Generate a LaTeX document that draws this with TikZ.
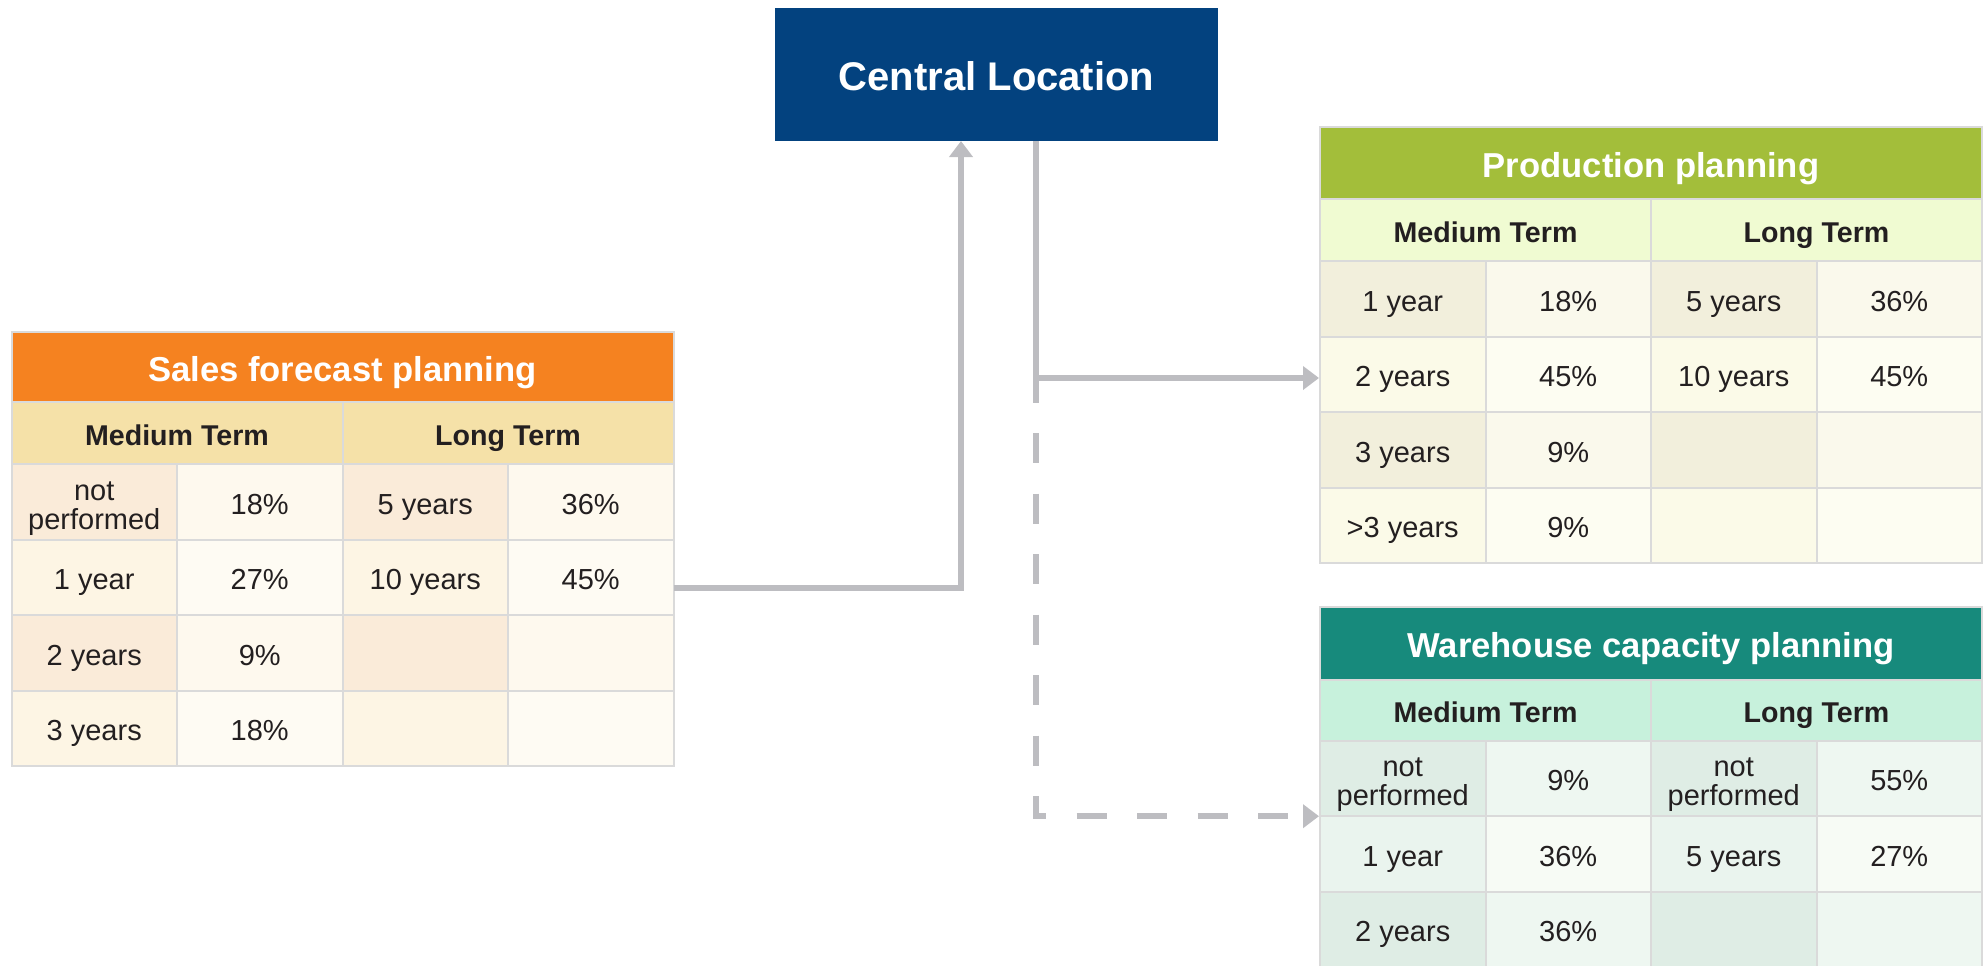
\documentclass[tikz,border=0pt]{standalone}
\usepackage{fontspec}
\setmainfont{Liberation Sans}
\usetikzlibrary{arrows.meta}

% palette
\definecolor{centralBlue}{HTML}{03427F}
\definecolor{gridgray}{HTML}{DADADA}
\definecolor{linkgray}{HTML}{BDBDC1}
\definecolor{inkdark}{HTML}{231F20}

\definecolor{salesHead}{HTML}{F58220}
\definecolor{salesSub}{HTML}{F5E1A8}
\definecolor{salesLA}{HTML}{FAEBD9}
\definecolor{salesVA}{HTML}{FEF9EE}
\definecolor{salesLB}{HTML}{FDF5E4}
\definecolor{salesVB}{HTML}{FEFBF3}

\definecolor{prodHead}{HTML}{A3BE3A}
\definecolor{prodSub}{HTML}{F0FBD2}
\definecolor{prodLA}{HTML}{F2EFDC}
\definecolor{prodVA}{HTML}{FAF9EC}
\definecolor{prodLB}{HTML}{FBFAE8}
\definecolor{prodVB}{HTML}{FDFDF2}

\definecolor{wareHead}{HTML}{178A7C}
\definecolor{wareSub}{HTML}{C7F1DC}
\definecolor{wareLA}{HTML}{DFEDE5}
\definecolor{wareVA}{HTML}{EEF7F1}
\definecolor{wareLB}{HTML}{EAF4EE}
\definecolor{wareVB}{HTML}{F7FBF5}

% two stacked words inside one cell
\newcommand\twoline[2]{\raisebox{13.9pt}{\begin{tabular}[t]{@{}c@{}}#1\\#2\end{tabular}}}

% one body row of a planning table: #1 table, #2 row no, #3 shade (A/B),
% #4 left x, #5 top y, #6-#9 cell texts
\newcommand\planrow[9]{%
  \node[bodycell, fill=#1L#3] (#1-r#2c1) at (#4,#5) {#6};
  \node[bodycell, fill=#1V#3] (#1-r#2c2) at (#4+165.5,#5) {#7};
  \node[bodycell, fill=#1L#3] (#1-r#2c3) at (#4+331,#5) {#8};
  \node[bodycell, fill=#1V#3] (#1-r#2c4) at (#4+496.5,#5) {#9};
}

\tikzset{
  gridcell/.style={rectangle, draw=gridgray, line width=2pt, inner sep=0pt,
    outer sep=0pt, anchor=north west, text=inkdark},
  bodycell/.style={gridcell, minimum width=165.5pt, minimum height=75.5pt,
    font=\fontsize{29}{26}\selectfont, text height=24.8pt, text depth=0pt},
  subcell/.style={gridcell, minimum width=331pt,
    font=\bfseries\fontsize{28.6}{30}\selectfont, text height=24.5pt, text depth=0pt},
  titlecell/.style={gridcell, minimum width=662pt, text=white,
    font=\bfseries\fontsize{34.6}{38}\selectfont, text height=28.8pt, text depth=0pt},
  hub/.style={rectangle, fill=centralBlue, inner sep=0pt, outer sep=0pt,
    minimum width=443pt, minimum height=133pt, text=white,
    font=\bfseries\fontsize{40}{44}\selectfont, text height=32.6pt, text depth=0pt},
  conn/.style={draw=linkgray, line width=5.5pt,
    -{Triangle[length=16pt,width=23pt]}},
}

\begin{document}
\begin{tikzpicture}[x=1pt, y=-1pt]
  \path[use as bounding box] (0,0) rectangle (1984,966);
  \clip (0,0) rectangle (1984,966);

  % hub
  \node[hub] (central) at (996.5,74.5) {Central Location};

  % sales forecast planning
  \node[titlecell, fill=salesHead, minimum height=70.6pt] (sales) at (11.5,331.7) {Sales forecast planning};
  \node[subcell, fill=salesSub, minimum height=62pt] (sales-mt) at (11.5,402.3) {Medium Term};
  \node[subcell, fill=salesSub, minimum height=62pt] (sales-lt) at (342.5,402.3) {Long Term};
  \planrow{sales}{1}{A}{11.5}{464.3}{\twoline{not}{performed}}{18\%}{5 years}{36\%}
  \planrow{sales}{2}{B}{11.5}{539.8}{1 year}{27\%}{10 years}{45\%}
  \planrow{sales}{3}{A}{11.5}{615.3}{2 years}{9\%}{}{}
  \planrow{sales}{4}{B}{11.5}{690.8}{3 years}{18\%}{}{}

  % production planning
  \node[titlecell, fill=prodHead, minimum height=72.5pt] (prod) at (1320,126.5) {Production planning};
  \node[subcell, fill=prodSub, minimum height=62pt] (prod-mt) at (1320,199) {Medium Term};
  \node[subcell, fill=prodSub, minimum height=62pt] (prod-lt) at (1651,199) {Long Term};
  \planrow{prod}{1}{A}{1320}{261}{1 year}{18\%}{5 years}{36\%}
  \planrow{prod}{2}{B}{1320}{336.5}{2 years}{45\%}{10 years}{45\%}
  \planrow{prod}{3}{A}{1320}{412}{3 years}{9\%}{}{}
  \planrow{prod}{4}{B}{1320}{487.5}{>3 years}{9\%}{}{}

  % warehouse capacity planning
  \node[titlecell, fill=wareHead, minimum height=72.5pt] (ware) at (1320,607) {Warehouse capacity planning};
  \node[subcell, fill=wareSub, minimum height=61.2pt] (ware-mt) at (1320,679.5) {Medium Term};
  \node[subcell, fill=wareSub, minimum height=61.2pt] (ware-lt) at (1651,679.5) {Long Term};
  \planrow{ware}{1}{A}{1320}{740.7}{\twoline{not}{performed}}{9\%}{\twoline{not}{performed}}{55\%}
  \planrow{ware}{2}{B}{1320}{816.2}{1 year}{36\%}{5 years}{27\%}
  \planrow{ware}{3}{A}{1320}{891.7}{2 years}{36\%}{}{}

  % connectors
  \draw[conn] ([yshift=-10.45pt]sales-r2c4.east) -| ([xshift=-35.5pt]central.south);
  \draw[conn, shorten >=1pt] ([xshift=39.5pt]central.south) |- ([yshift=-3.75pt]prod-r2c1.west);
  \draw[conn, shorten >=1pt, dash pattern=on 30pt off 30.5pt, dash phase=10.3pt]
    ([xshift=39.5pt]central.south) |- (ware-r1c1.south west);
\end{tikzpicture}
\end{document}
